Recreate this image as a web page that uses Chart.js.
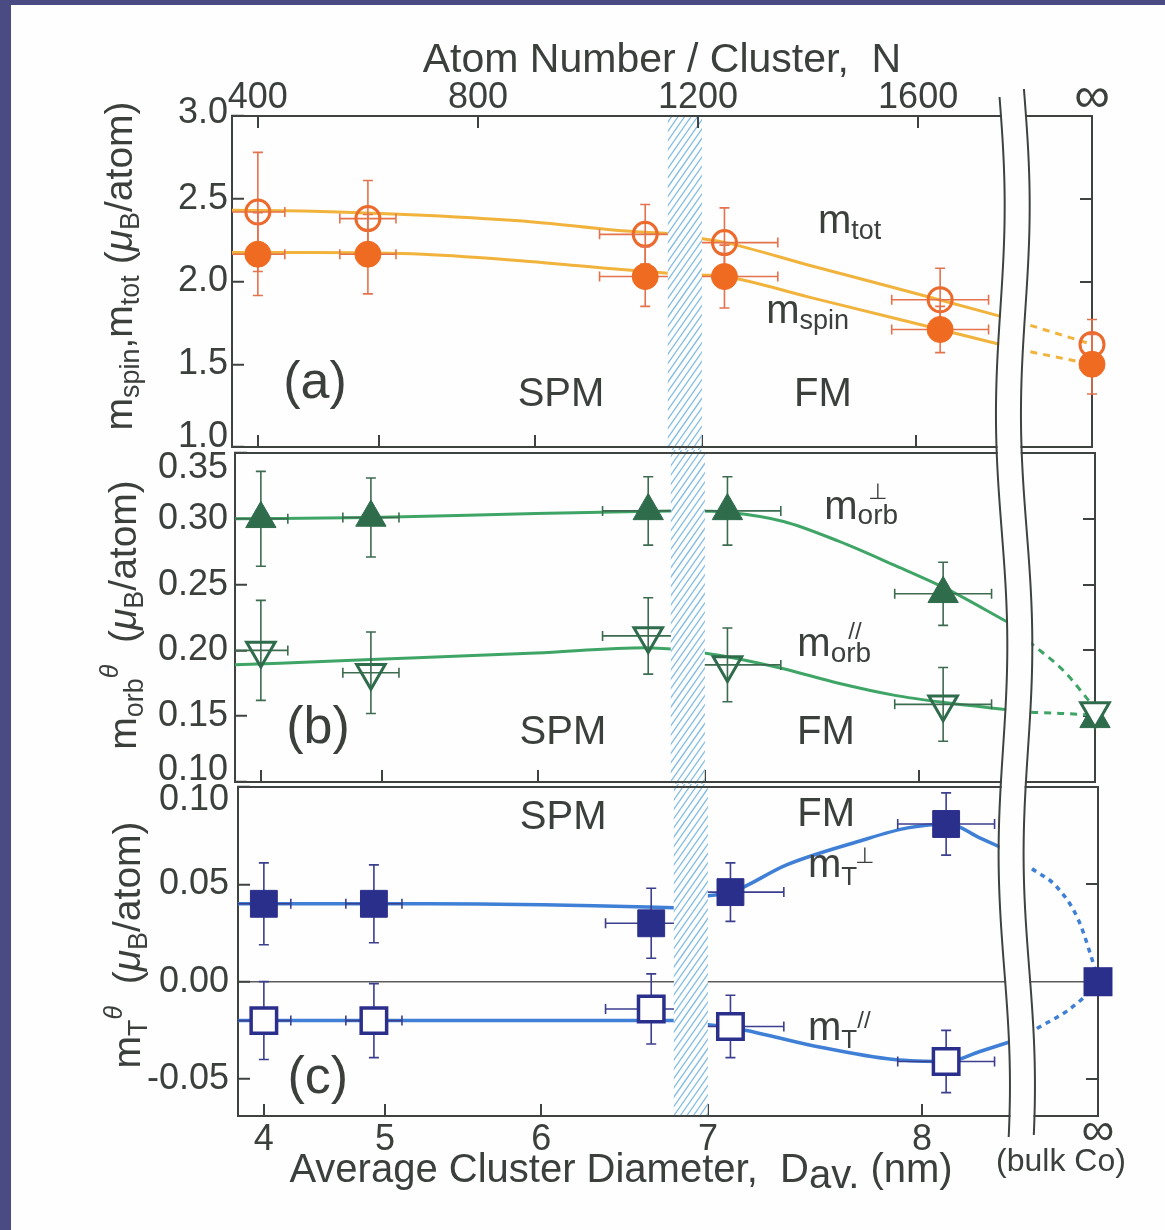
<!DOCTYPE html>
<html>
<head>
<meta charset="utf-8">
<title>Co cluster moments vs size</title>
<script src="https://cdn.jsdelivr.net/npm/chart.js@4.4.1/dist/chart.umd.min.js"></script>
<style>
    html, body { margin: 0; padding: 0; }
    body { width: 1165px; height: 1230px; background: #4b4b84; position: relative; overflow: hidden; }
    #paper { position: absolute; left: 11px; top: 5px; right: 0; bottom: 0; background: #fefefe; }
    canvas { position: absolute; left: 0; }
</style>
</head>
<body>
<div id="paper"></div>
<canvas id="chartA" width="1165" height="450" style="top:0;width:1165px;height:450px"></canvas>
<canvas id="chartB" width="1165" height="334" style="top:450px;width:1165px;height:334px"></canvas>
<canvas id="chartC" width="1165" height="446" style="top:784px;width:1165px;height:446px"></canvas>
<script>
// ==================== DATA ====================
const INF = 1916;      // position of the "bulk Co" column on the N axis
const N_MIN = 353;

// cluster sizes (atoms / cluster) of the measured samples, last one = bulk
const sizeN    = [400, 600, 1104, 1248, 1640, INF];
const sizeErrN = [49, 51, 83, 97, 88, 0];

// axis ticks
const nTicks = [400, 800, 1200, 1600];
const dTicks = ['4', '5', '6', '7', '8'];
const dTickN = [400, 620, 904, 1207, 1596];
const hatchN = [1145, 1207];

// (a) spin and total moments
const mTot     = [2.42, 2.38, 2.285, 2.235, 1.89, 1.62];
const mTotErr  = [0.36, 0.23, 0.18, 0.21, 0.19, 0.15];
const mSpin    = [2.165, 2.165, 2.03, 2.03, 1.71, 1.50];
const mSpinErr = [0.25, 0.24, 0.18, 0.19, 0.14, 0.18];
const ticksA   = [1.0, 1.5, 2.0, 2.5, 3.0];
const totFit   = [[353, 2.43], [500, 2.425], [700, 2.40], [900, 2.36], [1050, 2.31], [1145, 2.29]];
const totFit2  = [[1205, 2.26], [1250, 2.235], [1400, 2.10], [1550, 1.968], [1640, 1.888], [1755, 1.785]];
const totBulk  = [[1804, 1.735], [INF, 1.62]];
const spinFit  = [[353, 2.175], [500, 2.175], [700, 2.165], [900, 2.12], [1050, 2.075], [1145, 2.05]];
const spinFit2 = [[1205, 2.04], [1250, 2.03], [1400, 1.907], [1550, 1.784], [1640, 1.71], [1755, 1.615]];
const spinBulk = [[1804, 1.575], [INF, 1.50]];

// (b) orbital moments
const orbPerp    = [0.300, 0.301, 0.306, 0.306, 0.243, 0.148];
const orbPerpErr = [0.036, 0.030, 0.026, 0.026, 0.024, 0];
const orbPar     = [0.200, 0.183, 0.211, 0.189, 0.159, 0.154];
const orbParErr  = [0.038, 0.031, 0.029, 0.028, 0.028, 0];
const ticksB     = [0.10, 0.15, 0.20, 0.25, 0.30, 0.35];
const perpFit    = [[353, 0.300], [600, 0.301], [900, 0.304], [1145, 0.306]];
const perpFit2   = [[1205, 0.306], [1250, 0.305], [1350, 0.298], [1450, 0.283], [1550, 0.265], [1650, 0.246], [1755, 0.222]];
const perpBulk   = [[1795, 0.207], [1860, 0.184], [INF, 0.156]];
const parFit     = [[353, 0.189], [600, 0.193], [900, 0.198], [1100, 0.202], [1145, 0.201]];
const parFit2    = [[1205, 0.198], [1250, 0.195], [1350, 0.186], [1450, 0.175], [1550, 0.166], [1650, 0.160], [1755, 0.155]];
const parBulk    = [[1800, 0.153], [INF, 0.151]];

// (c) magnetic dipole term
const mTPerp    = [0.040, 0.040, 0.030, 0.046, 0.081, 0.0];
const mTPerpErr = [0.021, 0.020, 0.018, 0.015, 0.016, 0];
const mTPar     = [-0.020, -0.020, -0.014, -0.023, -0.041, 0.0];
const mTParErr  = [0.020, 0.019, 0.018, 0.016, 0.016, 0];
const ticksC    = [-0.05, 0.00, 0.05, 0.10];
const tPerpFit  = [[353, 0.040], [700, 0.040], [1000, 0.039], [1145, 0.038]];
const tPerpFit2 = [[1205, 0.044], [1250, 0.046], [1350, 0.060], [1480, 0.072], [1570, 0.079], [1645, 0.081], [1700, 0.074], [1755, 0.067]];
const tPerpBulk = [[1796, 0.058], [1840, 0.049], [1880, 0.032], [INF, 0.002]];
const tParFit   = [[353, -0.020], [700, -0.020], [1145, -0.020]];
const tParFit2  = [[1205, -0.022], [1250, -0.0235], [1400, -0.033], [1545, -0.040], [1645, -0.041], [1700, -0.036], [1755, -0.031]];
const tParBulk  = [[1805, -0.024], [1860, -0.015], [INF, -0.002]];

// ==================== STYLE ====================
const FAMILY = '"Liberation Sans", "DejaVu Sans", Arial, sans-serif';
const INK = '#3b403c';
const FRAME = '#3e433f';
const PAPER = '#fefefe';
const W = 1165;
const PLOT_W = 860;

// ==================== HELPERS ====================
function pts(ys) { return sizeN.map((x, i) => ({ x: x, y: ys[i] })); }
function pairs(list) { return list.map(p => ({ x: p[0], y: p[1] })); }

function curve(list, color, width, dash) {
    return {
        data: pairs(list), showLine: true, pointRadius: 0, borderColor: color, borderWidth: width,
        borderDash: dash || [], cubicInterpolationMode: 'monotone', fill: false, order: 10
    };
}

function markers(ys, errs, opts) {
    return Object.assign({
        data: pts(ys), showLine: false, errY: errs, errX: sizeErrN, clip: false
    }, opts);
}

function fontStr(sg) { return (sg.it ? 'italic ' : '') + sg.s + 'px ' + FAMILY; }

// draws a run of text pieces (sub/superscripts via dy, "over" = stacked above previous piece)
function drawRich(ctx, segs, x, y, align) {
    ctx.save();
    ctx.fillStyle = INK;
    ctx.textBaseline = 'alphabetic';
    ctx.textAlign = 'left';
    const widths = segs.map(sg => { ctx.font = fontStr(sg); return ctx.measureText(sg.t).width; });
    const total = segs.reduce((sum, sg, i) => sum + (sg.over ? 0 : widths[i] + (sg.dx || 0)), 0);
    let cx = align === 'center' ? x - total / 2 : x;
    let prevX = cx, prevW = 0;
    segs.forEach((sg, i) => {
        ctx.font = fontStr(sg);
        if (sg.over) {
            ctx.fillText(sg.t, prevX + prevW / 2 - widths[i] / 2 + (sg.dx || 0), y + (sg.dy || 0));
        } else {
            cx += sg.dx || 0;
            ctx.fillText(sg.t, cx, y + (sg.dy || 0));
            prevX = cx; prevW = widths[i];
            cx += widths[i];
        }
    });
    ctx.restore();
}

function drawErrorBars(chart, ds) {
    if (!ds.errY) return;
    const { ctx, chartArea: a, scales: { x, y } } = chart;
    ctx.save();
    ctx.beginPath();
    ctx.rect(a.left, a.top - 2, a.width + 12, a.height + 4);
    ctx.clip();
    ctx.strokeStyle = ds.errColor;
    ctx.lineWidth = 1.6;
    ds.data.forEach((pt, i) => {
        const cx = x.getPixelForValue(pt.x), cy = y.getPixelForValue(pt.y);
        const ey = ds.errY[i], ex = ds.errX[i];
        ctx.beginPath();
        if (ey) {
            const t = y.getPixelForValue(pt.y + ey), b = y.getPixelForValue(pt.y - ey);
            ctx.moveTo(cx, t); ctx.lineTo(cx, b);
            ctx.moveTo(cx - 5, t); ctx.lineTo(cx + 5, t);
            ctx.moveTo(cx - 5, b); ctx.lineTo(cx + 5, b);
        }
        if (ex) {
            const l = x.getPixelForValue(pt.x - ex), r = x.getPixelForValue(pt.x + ex);
            ctx.moveTo(l, cy); ctx.lineTo(r, cy);
            ctx.moveTo(l, cy - 5); ctx.lineTo(l, cy + 5);
            ctx.moveTo(r, cy - 5); ctx.lineTo(r, cy + 5);
        }
        ctx.stroke();
    });
    ctx.restore();
}

function drawHatch(chart, p) {
    const { ctx, chartArea: a, scales: { x } } = chart;
    const x0 = x.getPixelForValue(hatchN[0]), x1 = x.getPixelForValue(hatchN[1]);
    const top = p.hatchTop === 'area' ? a.top : 0;
    const bottom = p.hatchBottom === 'area' ? a.bottom : chart.height;
    ctx.save();
    ctx.beginPath();
    ctx.rect(x0, top, x1 - x0, bottom - top);
    ctx.clip();
    ctx.fillStyle = PAPER;
    ctx.fillRect(x0, top, x1 - x0, bottom - top);
    ctx.strokeStyle = '#84bde4';
    ctx.lineWidth = 1.3;
    ctx.beginPath();
    const yt = top + p.top, yb = bottom + p.top;   // page coordinates keep stripes continuous
    for (let c = x0 - 800; c < x1 + 80; c += 6.5) {
        ctx.moveTo(c + (1200 - yb) * 0.7, bottom);
        ctx.lineTo(c + (1200 - yt) * 0.7, top);
    }
    ctx.stroke();
    ctx.restore();

    // frame lines stay on top of the band
    ctx.save();
    ctx.strokeStyle = FRAME;
    ctx.lineWidth = 2;
    ctx.beginPath();
    ctx.moveTo(x0 - 1, a.top); ctx.lineTo(x1 + 1, a.top);
    ctx.moveTo(x0 - 1, a.bottom); ctx.lineTo(x1 + 1, a.bottom);
    if (p.topAxis) {
        const tx = chart.scales.xTop.getPixelForValue(1200);
        ctx.moveTo(tx, a.top); ctx.lineTo(tx, a.top + 12);
    }
    ctx.stroke();
    ctx.restore();
}

// axis break between the clusters and bulk, in page coordinates
function breakX(yPage) { return 999 + 0.006 * (yPage - 90) + 5 * Math.sin((yPage - 90) / 70); }
const BREAK_GAP = 25;

function yRange(from, to, step) {
    const out = [];
    for (let y = from; y < to; y += step) out.push(y);
    out.push(to);
    return out;
}

function drawBreak(chart, p) {
    const ctx = chart.ctx;
    ctx.save();
    const f0 = Math.max(95, p.top), f1 = Math.min(1136, p.top + p.height);
    if (f1 > f0) {
        const ys = yRange(f0, f1, 3);
        ctx.beginPath();
        ys.forEach((y, i) => i ? ctx.lineTo(breakX(y) + 1, y - p.top) : ctx.moveTo(breakX(y) + 1, y - p.top));
        ys.slice().reverse().forEach(y => ctx.lineTo(breakX(y) + BREAK_GAP - 1, y - p.top));
        ctx.closePath();
        ctx.fillStyle = PAPER;
        ctx.fill();
    }
    ctx.strokeStyle = FRAME;
    ctx.lineWidth = 2;
    [[97, 1137, 0], [89, 1135, BREAK_GAP]].forEach(([s, e, off]) => {
        const y0 = Math.max(s, p.top), y1 = Math.min(e, p.top + p.height);
        if (y1 <= y0) return;
        ctx.beginPath();
        yRange(y0, y1, 3).forEach((y, i) => {
            if (i) ctx.lineTo(breakX(y) + off, y - p.top); else ctx.moveTo(breakX(y) + off, y - p.top);
        });
        ctx.stroke();
    });
    ctx.restore();
}

function drawEdgeLabels(chart, p) {
    const { ctx, chartArea: a, scales: { y } } = chart;
    ctx.save();
    ctx.font = '36px ' + FAMILY;
    ctx.fillStyle = INK;
    ctx.textAlign = 'right';
    ctx.textBaseline = 'middle';
    p.edge.forEach(e => ctx.fillText(e.v.toFixed(p.dec), a.left + 12 - p.labelPad, y.getPixelForValue(e.v) + e.dy));
    ctx.restore();
}

function drawNotes(chart, p) {
    const { ctx, scales: { x, y } } = chart;
    p.notes.forEach(n => drawRich(ctx, n.segs, x.getPixelForValue(n.x), y.getPixelForValue(n.y), n.align));
}

function drawYTitle(chart, p) {
    const ctx = chart.ctx;
    ctx.save();
    ctx.translate(p.yTitle.bx, p.yTitle.cy);
    ctx.rotate(-Math.PI / 2);
    drawRich(ctx, p.yTitle.segs, 0, 0, 'center');
    ctx.restore();
}

// ==================== PANELS ====================
function makeChart(p) {
    const right = W - (p.left + PLOT_W);
    const tickFont = { family: FAMILY, size: 36 };
    const infTop = { family: FAMILY, size: 50, lineHeight: 43.2 / 50 };
    const infBottom = { family: FAMILY, size: 46, lineHeight: 28 / 46 };
    const isEdge = v => p.edge.some(e => Math.abs(e.v - v) < 1e-9);
    const border = { color: FRAME, width: 2 };

    const scales = {
        x: {
            type: 'linear', position: 'bottom', min: N_MIN, max: INF, bounds: 'data',
            afterBuildTicks: s => { s.ticks = dTickN.map(v => ({ value: v })).concat([{ value: INF }]); },
            ticks: {
                display: p.bottomLabels, autoSkip: false, maxRotation: 0, padding: 14, color: INK,
                font: c => (c.tick && c.tick.value === INF) ? infBottom : tickFont,
                callback: (v, i) => i < dTicks.length ? dTicks[i] : '∞'
            },
            grid: { drawOnChartArea: false, tickLength: -12, color: FRAME, lineWidth: 2 },
            border: border,
            afterFit: s => { s.height = p.bottomH; s.paddingLeft = 0; s.paddingRight = 0; }
        },
        xTop: p.topAxis ? {
            type: 'linear', position: 'top', min: N_MIN, max: INF, bounds: 'data',
            afterBuildTicks: s => { s.ticks = nTicks.map(v => ({ value: v })).concat([{ value: INF }]); },
            ticks: {
                autoSkip: false, maxRotation: 0, padding: 8, color: INK,
                font: c => (c.tick && c.tick.value === INF) ? infTop : tickFont,
                callback: v => v === INF ? '∞' : String(v)
            },
            grid: { drawOnChartArea: false, tickLength: -12, color: FRAME, lineWidth: 2 },
            border: border,
            title: {
                display: true, text: 'Atom Number / Cluster,  N', color: INK,
                font: { family: FAMILY, size: 41 }, padding: { top: 36, bottom: 0 }
            },
            afterFit: s => { s.height = p.topH; s.paddingLeft = 0; s.paddingRight = 0; }
        } : {
            type: 'linear', position: 'top', min: N_MIN, max: INF, bounds: 'data',
            ticks: { display: false },
            grid: { drawOnChartArea: false, drawTicks: false, color: FRAME, lineWidth: 2 },
            border: border,
            afterFit: s => { s.height = p.topH; s.paddingLeft = 0; s.paddingRight = 0; }
        },
        y: {
            type: 'linear', position: 'left', min: p.min, max: p.max, bounds: 'data',
            afterBuildTicks: s => { s.ticks = p.ticks.map(v => ({ value: v })); },
            ticks: {
                autoSkip: false, padding: p.labelPad, color: INK, font: tickFont,
                callback: v => isEdge(v) ? '' : v.toFixed(p.dec)
            },
            grid: {
                z: -1, drawOnChartArea: !!p.zeroLine, tickLength: -12, tickColor: FRAME, tickWidth: 2,
                color: c => (p.zeroLine && c.tick && c.tick.value === 0) ? '#5c5c5c' : 'rgba(0,0,0,0)',
                lineWidth: 1.5
            },
            border: border,
            afterFit: s => { s.width = p.left; s.paddingTop = 0; s.paddingBottom = 0; }
        },
        yR: {
            type: 'linear', position: 'right', min: p.min, max: p.max, bounds: 'data',
            afterBuildTicks: s => { s.ticks = p.ticks.map(v => ({ value: v })); },
            ticks: { display: false },
            grid: { drawOnChartArea: false, tickLength: -12, color: FRAME, lineWidth: 2 },
            border: border,
            afterFit: s => { s.width = right; s.paddingTop = 0; s.paddingBottom = 0; }
        }
    };

    const decor = {
        id: 'decor',
        beforeDatasetDraw(chart, args) { drawErrorBars(chart, chart.data.datasets[args.index]); },
        afterDatasetsDraw(chart) { drawHatch(chart, p); },
        afterDraw(chart) {
            drawBreak(chart, p);
            drawEdgeLabels(chart, p);
            drawNotes(chart, p);
            drawYTitle(chart, p);
            if (p.extra) p.extra(chart);
        }
    };

    return new Chart(document.getElementById(p.id), {
        type: 'scatter',
        data: { datasets: p.datasets },
        options: {
            responsive: false,
            animation: false,
            devicePixelRatio: 1,
            events: [],
            layout: { padding: 0, autoPadding: false },
            plugins: { legend: { display: false }, tooltip: { enabled: false } },
            scales: scales
        },
        plugins: [decor]
    });
}

const SUB = 27;
const muTitle = [
    { t: ' (', s: 39 }, { t: 'μ', s: 39, it: true }, { t: 'B', s: SUB, dy: 7 }, { t: '/atom)', s: 39 }
];

// ---- (a)
const GOLD = '#f1b33c', ORANGE = '#f06b22';
makeChart({
    id: 'chartA', top: 0, height: 450, left: 232, topH: 116, bottomH: 3,
    min: 1.0, max: 3.0, ticks: ticksA, dec: 1, labelPad: 16,
    edge: [{ v: 3.0, dy: -3 }, { v: 1.0, dy: -10 }],
    topAxis: true, bottomLabels: false, hatchTop: 'area', hatchBottom: 'canvas',
    yTitle: {
        bx: 132, cy: 266,
        segs: [{ t: 'm', s: 39 }, { t: 'spin', s: SUB, dy: 7 }, { t: ',', s: 39 }, { t: 'm', s: 39 }, { t: 'tot', s: SUB, dy: 7 }].concat(muTitle)
    },
    notes: [
        { x: 504, y: 1.296, align: 'center', segs: [{ t: '(a)', s: 52 }] },
        { x: 951, y: 1.245, align: 'center', segs: [{ t: 'SPM', s: 40 }] },
        { x: 1427, y: 1.245, align: 'center', segs: [{ t: 'FM', s: 40 }] },
        { x: 1418, y: 2.293, segs: [{ t: 'm', s: 40 }, { t: 'tot', s: SUB, dy: 6 }] },
        { x: 1324, y: 1.749, segs: [{ t: 'm', s: 40 }, { t: 'spin', s: SUB, dy: 6 }] }
    ],
    datasets: [
        markers(mSpin, mSpinErr, {
            order: 1, errColor: '#e4734d', pointStyle: 'circle', pointRadius: 13,
            pointBackgroundColor: ORANGE, pointBorderColor: ORANGE, pointBorderWidth: 1
        }),
        markers(mTot, mTotErr, {
            order: 2, errColor: '#e4734d', pointStyle: 'circle', pointRadius: 12,
            pointBackgroundColor: 'rgba(0,0,0,0)', pointBorderColor: '#ec6a2c', pointBorderWidth: 3
        }),
        curve(totFit, GOLD, 3), curve(totFit2, GOLD, 3), curve(totBulk, GOLD, 3, [7, 6]),
        curve(spinFit, GOLD, 3), curve(spinFit2, GOLD, 3), curve(spinBulk, GOLD, 3, [7, 6])
    ]
});

// ---- (b)
const GREEN = '#3fa566', DKGREEN = '#2f6c4c';
makeChart({
    id: 'chartB', top: 450, height: 334, left: 235, topH: 3, bottomH: 2,
    min: 0.10, max: 0.35, ticks: ticksB, dec: 2, labelPad: 19,
    edge: [{ v: 0.35, dy: 15 }, { v: 0.10, dy: -12 }],
    topAxis: false, bottomLabels: false, hatchTop: 'canvas', hatchBottom: 'canvas',
    yTitle: {
        bx: 136, cy: 165,
        segs: [{ t: 'm', s: 39 }, { t: 'orb', s: SUB, dy: 7 }, { t: 'θ', s: 25, it: true, dy: -18 }, { t: ' ', s: 39 }].concat(muTitle)
    },
    notes: [
        { x: 504, y: 0.1296, align: 'center', segs: [{ t: '(b)', s: 52 }] },
        { x: 949, y: 0.1285, align: 'center', segs: [{ t: 'SPM', s: 40 }] },
        { x: 1427, y: 0.1285, align: 'center', segs: [{ t: 'FM', s: 40 }] },
        { x: 1424, y: 0.2998, segs: [{ t: 'm', s: 40 }, { t: 'orb', s: 28, dy: 5 }, { t: '⊥', s: 22, dy: -20, over: true }] },
        { x: 1375, y: 0.1957, segs: [{ t: 'm', s: 40 }, { t: 'orb', s: 28, dy: 6 }, { t: '//', s: 24, dy: -17, over: true, dx: 4 }] }
    ],
    datasets: [
        markers(orbPar, orbParErr, {
            order: 1, errColor: '#3d6b50', pointStyle: 'triangle', pointRadius: 16.5, pointRotation: 180,
            pointBackgroundColor: orbPar.map((v, i) => i === orbPar.length - 1 ? PAPER : 'rgba(0,0,0,0)'),
            pointBorderColor: DKGREEN, pointBorderWidth: 3
        }),
        markers(orbPerp, orbPerpErr, {
            order: 2, errColor: '#3d6b50', pointStyle: 'triangle', pointRadius: 17.5,
            pointBackgroundColor: DKGREEN, pointBorderColor: DKGREEN, pointBorderWidth: 1
        }),
        curve(perpFit, GREEN, 3), curve(perpFit2, GREEN, 3), curve(perpBulk, GREEN, 3, [7, 6]),
        curve(parFit, GREEN, 3), curve(parFit2, GREEN, 3), curve(parBulk, GREEN, 3, [7, 6])
    ]
});

// ---- (c)
const BLUE = '#3f80d6', NAVY = '#2b2f8c';
makeChart({
    id: 'chartC', top: 784, height: 446, left: 238, topH: 3, bottomH: 114,
    min: -0.069, max: 0.10, ticks: ticksC, dec: 2, labelPad: 21,
    edge: [{ v: 0.10, dy: 13 }],
    topAxis: false, bottomLabels: true, zeroLine: true, hatchTop: 'canvas', hatchBottom: 'area',
    yTitle: {
        bx: 140, cy: 161,
        segs: [{ t: 'm', s: 39 }, { t: 'T', s: SUB, dy: 7 }, { t: 'θ', s: 25, it: true, dy: -18 }, { t: ' ', s: 39 }].concat(muTitle)
    },
    notes: [
        { x: 498, y: -0.057, align: 'center', segs: [{ t: '(c)', s: 52 }] },
        { x: 944, y: 0.0783, align: 'center', segs: [{ t: 'SPM', s: 40 }] },
        { x: 1422, y: 0.0799, align: 'center', segs: [{ t: 'FM', s: 40 }] },
        { x: 1389, y: 0.0539, segs: [{ t: 'm', s: 40 }, { t: 'T', s: 26, dy: 8 }, { t: '⊥', s: 22, dy: -14, dx: -2 }] },
        { x: 1389, y: -0.0298, segs: [{ t: 'm', s: 40 }, { t: 'T', s: 26, dy: 8 }, { t: '//', s: 24, dy: -12 }] }
    ],
    extra: chart => {
        drawRich(chart.ctx, [{ t: 'Average Cluster Diameter,  D', s: 40 }, { t: 'av.', s: 40, dy: 6 }, { t: ' (nm)', s: 40 }], 621, 1182 - 784, 'center');
        drawRich(chart.ctx, [{ t: '(bulk Co)', s: 32 }], 1061, 1171 - 784, 'center');
    },
    datasets: [
        markers(mTPerp, mTPerpErr, {
            order: 1, errColor: '#3b3f8e', pointStyle: 'rect', pointRadius: 19,
            pointBackgroundColor: NAVY, pointBorderColor: NAVY, pointBorderWidth: 1
        }),
        markers(mTPar, mTParErr, {
            order: 2, errColor: '#3b3f8e', pointStyle: 'rect', pointRadius: 18,
            pointBackgroundColor: PAPER, pointBorderColor: NAVY, pointBorderWidth: 3.5
        }),
        curve(tPerpFit, BLUE, 3.5), curve(tPerpFit2, BLUE, 3.5), curve(tPerpBulk, BLUE, 3.5, [5, 5]),
        curve(tParFit, BLUE, 3.5), curve(tParFit2, BLUE, 3.5), curve(tParBulk, BLUE, 3.5, [5, 5])
    ]
});
</script>
</body>
</html>
